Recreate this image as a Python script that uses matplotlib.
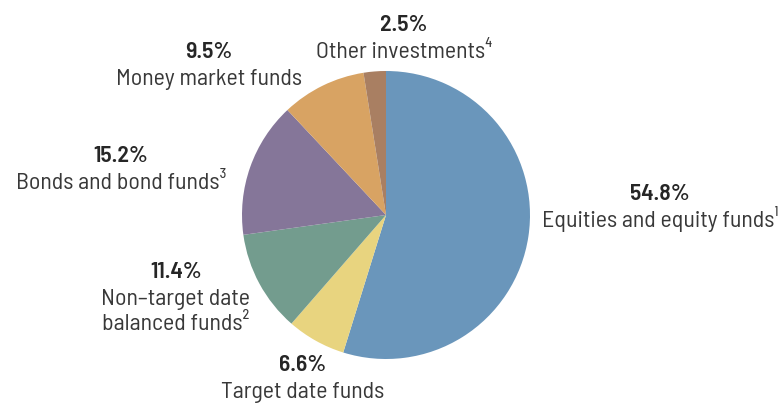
import matplotlib.pyplot as plt

labels = ["Equities and equity funds¹", "Target date funds", "Non–target date\nbalanced funds²",
          "Bonds and bond funds³", "Money market funds", "Other investments⁴"]
shares = [54.8, 6.6, 11.4, 15.2, 9.5, 2.5]
colors = ["#6a96bb", "#e8d47f", "#739c8e", "#857699", "#d8a363", "#a97f62"]

# label anchors: x centre and baseline of the percent line (pixels, y from top)
label_x = [660, 303, 176, 121, 209, 404]
label_y = [200, 371, 278, 162, 58, 31]

plt.rcParams['font.family'] = ['Barlow Semi Condensed', 'DejaVu Sans']

W, H = 784, 403
fig = plt.figure(figsize=(W / 100, H / 100), dpi=100)
ax = fig.add_axes([0, 0, 1, 1])

ax.pie(shares, colors=colors, startangle=90, counterclock=False,
       center=(386, H - 215), radius=144, frame=True,
       wedgeprops=dict(linewidth=0))
ax.set_xlim(0, W)
ax.set_ylim(0, H)
ax.set_aspect("equal")
ax.axis("off")

for lab, val, x, y in zip(labels, shares, label_x, label_y):
    ax.text(x, H - y, f"{val:.1f}%", ha="center", va="baseline",
            fontsize=17, fontweight="semibold", color="#262626")
    for i, line in enumerate(lab.split("\n")):
        ax.text(x, H - y - 27 - 25 * i, line, ha="center", va="baseline",
                fontsize=17.2, color="#383838")

fig.savefig("out.png", dpi=100)
